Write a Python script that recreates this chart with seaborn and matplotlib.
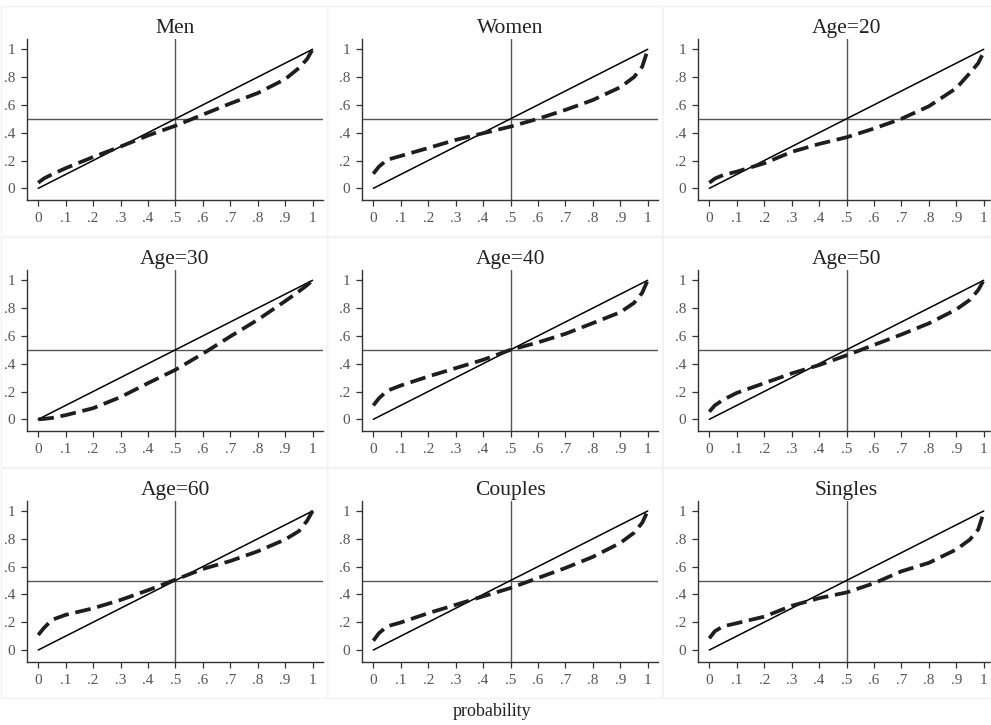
import numpy as np
import pandas as pd
import matplotlib
matplotlib.use("Agg")
import matplotlib.pyplot as plt
from matplotlib.patches import Rectangle
import seaborn as sns

probs = [0, 0.02, 0.05, 0.1, 0.2, 0.3, 0.4, 0.5, 0.6, 0.7, 0.8, 0.9, 0.95, 0.98, 1.0]

# estimated weighting function values per group
men = [0.04, 0.07, 0.10, 0.145, 0.225, 0.30, 0.38, 0.45, 0.53, 0.61, 0.685, 0.785, 0.865, 0.93, 1.0]
women = [0.105, 0.155, 0.205, 0.233, 0.29, 0.348, 0.396, 0.444, 0.50, 0.564, 0.635, 0.727, 0.80, 0.875, 0.995]
age20 = [0.04, 0.07, 0.095, 0.12, 0.18, 0.262, 0.319, 0.367, 0.43, 0.50, 0.59, 0.72, 0.83, 0.90, 0.98]
age30 = [0.0, 0.003, 0.01, 0.03, 0.08, 0.16, 0.26, 0.356, 0.472, 0.596, 0.716, 0.85, 0.92, 0.965, 1.0]
age40 = [0.10, 0.15, 0.205, 0.243, 0.308, 0.368, 0.428, 0.50, 0.553, 0.615, 0.692, 0.77, 0.837, 0.91, 1.0]
age50 = [0.055, 0.10, 0.14, 0.19, 0.26, 0.33, 0.39, 0.46, 0.535, 0.61, 0.69, 0.79, 0.86, 0.93, 1.0]
age60 = [0.108, 0.157, 0.217, 0.253, 0.30, 0.36, 0.43, 0.506, 0.583, 0.64, 0.71, 0.795, 0.855, 0.93, 1.0]
couples = [0.067, 0.12, 0.17, 0.198, 0.265, 0.325, 0.386, 0.446, 0.518, 0.59, 0.67, 0.77, 0.843, 0.915, 1.0]
singles = [0.084, 0.135, 0.17, 0.193, 0.24, 0.318, 0.373, 0.414, 0.48, 0.566, 0.627, 0.723, 0.795, 0.867, 0.99]

titles = ["Men", "Women", "Age=20", "Age=30", "Age=40", "Age=50", "Age=60", "Couples", "Singles"]
curves = [men, women, age20, age30, age40, age50, age60, couples, singles]

diag = [0, 1]
ref_level = 0.5

x_ticks = [0, 0.1, 0.2, 0.3, 0.4, 0.5, 0.6, 0.7, 0.8, 0.9, 1.0]
x_tick_labels = ["0", ".1", ".2", ".3", ".4", ".5", ".6", ".7", ".8", ".9", "1"]
y_ticks = [0, 0.2, 0.4, 0.6, 0.8, 1.0]
y_tick_labels = ["0", ".2", ".4", ".6", ".8", "1"]

df = pd.DataFrame({
    "group": np.repeat(titles, len(probs)),
    "p": probs * len(titles),
    "w": np.concatenate(curves),
})

sns.set_style("ticks")
plt.rcParams["font.family"] = ["Liberation Serif", "DejaVu Serif"]

W, H = 991, 725
fig = plt.figure(figsize=(W / 100, H / 100), dpi=100)

col_left = [26.7, 361.8, 697.8]
row_top = [39, 270, 500.7]
ax_w, ax_h = 296.6, 161.0

for i, name in enumerate(titles):
    r, c = divmod(i, 3)
    left, top = col_left[c], row_top[r]

    # faint panel box like the original graph regions
    bx0 = max(left - 35, 0.5)
    bx1 = min(left + ax_w + 4, W - 0.5)
    by0 = max(top - 33, 0.5)
    by1 = top + ax_h + 36
    fig.patches.append(Rectangle((bx0 / W, 1 - by1 / H), (bx1 - bx0) / W, (by1 - by0) / H,
                                 transform=fig.transFigure, fill=False,
                                 edgecolor="#f3f3f3", lw=1.0, zorder=0))

    ax = fig.add_axes([left / W, 1 - (top + ax_h) / H, ax_w / W, ax_h / H])
    ax.set_facecolor("none")

    ax.axvline(ref_level, color="#555555", lw=1.0, zorder=1)
    ax.axhline(ref_level, color="#555555", lw=1.0, zorder=1)
    sns.lineplot(x=diag, y=diag, ax=ax, color="black", lw=1.1, zorder=2)
    sub = df[df["group"] == name]
    sns.lineplot(data=sub, x="p", y="w", ax=ax, color="#1e1e1e", lw=2.7,
                 linestyle=(0, (4.2, 1.8)), zorder=3)

    ax.set_xlim(-0.042, 1.039)
    ax.set_ylim(-0.084, 1.074)
    ax.set_xticks(x_ticks)
    ax.set_xticklabels(x_tick_labels)
    ax.set_yticks(y_ticks)
    ax.set_yticklabels(y_tick_labels)
    ax.tick_params(axis="both", length=4.5, width=0.9, color="#333333",
                   labelcolor="#555555", labelsize=11, pad=4)
    ax.set_xlabel("")
    ax.set_ylabel("")
    for s in ["top", "right"]:
        ax.spines[s].set_visible(False)
    for s in ["left", "bottom"]:
        ax.spines[s].set_color("#333333")
        ax.spines[s].set_linewidth(1.0)
    ax.set_title(name, fontsize=15.5, color="#222222", pad=4)

fig.text(0.496, 1 - 712 / H, "probability", ha="center", va="center",
         fontsize=13, color="#222222")

fig.savefig("out.png", dpi=100)
